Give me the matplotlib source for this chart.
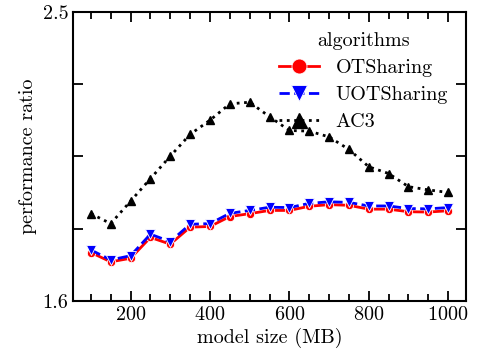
import matplotlib
matplotlib.use("Agg")
import matplotlib.pyplot as plt
from matplotlib.ticker import MultipleLocator, FixedLocator

plt.rcParams['font.family'] = 'serif'
plt.rcParams['font.serif'] = ['cmr10']
plt.rcParams['mathtext.fontset'] = 'cm'
plt.rcParams['axes.formatter.use_mathtext'] = True
plt.rcParams['font.size'] = 14.5

# data
model_size = [100, 150, 200, 250, 300, 350, 400, 450, 500, 550,
              600, 650, 700, 750, 800, 850, 900, 950, 1000]
ot_sharing = [1.751, 1.722, 1.733, 1.798, 1.777, 1.830, 1.832, 1.863, 1.872, 1.882,
              1.882, 1.895, 1.900, 1.898, 1.886, 1.886, 1.878, 1.877, 1.881]
uot_sharing = [1.759, 1.728, 1.741, 1.808, 1.785, 1.839, 1.841, 1.873, 1.882, 1.892,
               1.891, 1.904, 1.909, 1.907, 1.896, 1.896, 1.888, 1.887, 1.891]
ac3 = [1.872, 1.841, 1.911, 1.981, 2.051, 2.119, 2.163, 2.214, 2.219, 2.174,
       2.131, 2.129, 2.111, 2.072, 2.018, 1.997, 1.956, 1.946, 1.938]

fig = plt.figure(figsize=(4.79, 3.61), dpi=100)
ax = fig.add_axes([0.1524, 0.1662, 0.8205, 0.8006])

ax.plot(model_size, ot_sharing, '-', color='red', lw=2, marker='o', ms=6,
        mec='white', mew=0.6, label='OTSharing', zorder=2)
ax.plot(model_size, uot_sharing, '--', color='blue', lw=2, marker='v', ms=6.5,
        mec='white', mew=0.6, label='UOTSharing', zorder=3)
ax.plot(model_size, ac3, ':', color='black', lw=2, marker='^', ms=6,
        label='AC3', zorder=1)

ax.set_xlim(55, 1045)
ax.set_ylim(1.6, 2.5)
ax.xaxis.set_major_locator(FixedLocator([200, 400, 600, 800, 1000]))
ax.xaxis.set_minor_locator(MultipleLocator(50))
ax.yaxis.set_major_locator(FixedLocator([1.6, 2.5]))
ax.yaxis.set_minor_locator(FixedLocator([1.825, 2.05, 2.275]))
ax.set_yticklabels(['1.6', '2.5'])
ax.tick_params(which='both', direction='in', top=True, right=True, width=1.3)
ax.tick_params(which='major', length=7)
ax.tick_params(which='minor', length=5)
ax.tick_params(axis='y', which='minor', length=7)
for s in ax.spines.values():
    s.set_linewidth(1.5)

ax.set_xlabel('model size (MB)', labelpad=3)
ax.set_ylabel('performance ratio', labelpad=4)

leg = ax.legend(title='algorithms', frameon=False, loc='upper right',
                bbox_to_anchor=(1.0, 0.995), markerscale=1.8, handlelength=2.0,
                labelspacing=0.45, title_fontsize=14.5)

fig.savefig('out.png', dpi=100)
